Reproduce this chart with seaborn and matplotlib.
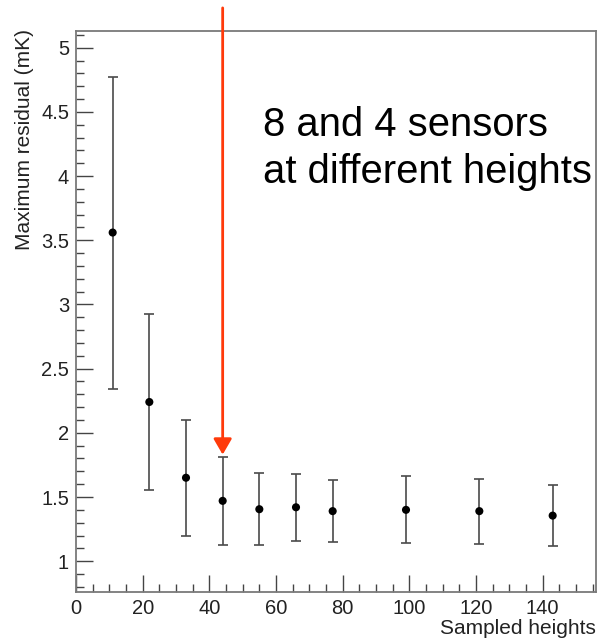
import matplotlib
matplotlib.use("Agg")
import matplotlib.pyplot as plt
from matplotlib.ticker import MultipleLocator, FuncFormatter
import seaborn as sns
import pandas as pd

# Scan results: maximum residual versus number of sampled heights
sampled_heights = [11, 22, 33, 44, 55, 66, 77, 99, 121, 143]
max_residual = [3.56, 2.24, 1.65, 1.47, 1.405, 1.42, 1.39, 1.40, 1.39, 1.355]
residual_err = [1.215, 0.685, 0.45, 0.34, 0.28, 0.26, 0.24, 0.26, 0.253, 0.235]

highlight_x = 44
highlight_tip = 1.83
note_lines = ["8 and 4 sensors", "at different heights"]

df = pd.DataFrame({"heights": sampled_heights, "residual": max_residual, "err": residual_err})

sns.set_theme(style="ticks")
plt.rcParams["font.family"] = ["Liberation Sans", "DejaVu Sans"]

fig = plt.figure(figsize=(5.99, 6.40), dpi=100)
ax = fig.add_axes([76 / 599, 48 / 640, 520 / 599, 561 / 640])

ax.errorbar(df["heights"], df["residual"], yerr=df["err"], fmt="none",
            ecolor="#4a4a4a", elinewidth=1.2, capsize=3.5, capthick=1.2, zorder=2)
sns.scatterplot(data=df, x="heights", y="residual", ax=ax, color="black",
                s=34, edgecolor="none", zorder=3, legend=False)

ax.set_xlim(0, 156)
ax.set_ylim(0.76, 5.13)

ax.xaxis.set_major_locator(MultipleLocator(20))
ax.xaxis.set_minor_locator(MultipleLocator(5))
ax.yaxis.set_major_locator(MultipleLocator(0.5))
ax.yaxis.set_minor_locator(MultipleLocator(0.1))
ax.yaxis.set_major_formatter(FuncFormatter(lambda v, p: f"{v:g}"))

ax.tick_params(axis="both", which="both", direction="in", color="#444444",
               top=False, right=False, labelcolor="#222222")
ax.tick_params(axis="both", which="major", length=12, width=1.0, labelsize=14.5)
ax.tick_params(axis="both", which="minor", length=6, width=1.0)
ax.tick_params(axis="x", which="major", pad=5)
ax.tick_params(axis="y", which="major", pad=5)

for side in ["left", "bottom", "top", "right"]:
    ax.spines[side].set_visible(True)
    ax.spines[side].set_color("#7a7a7a")
    ax.spines[side].set_linewidth(1.3)

ax.set_xlabel("Sampled heights", loc="right", fontsize=15, color="#222222")
ax.set_ylabel("Maximum residual (mK)", loc="top", fontsize=15, color="#222222")
ax.xaxis.set_label_coords(1.0, -0.0475)
ax.yaxis.set_label_coords(-0.081, 1.003)

# Red arrow pointing at the chosen configuration
ax.annotate("", xy=(highlight_x, highlight_tip), xytext=(highlight_x, 5.31),
            xycoords="data", textcoords="data", annotation_clip=False,
            arrowprops=dict(arrowstyle="-|>,head_length=0.95,head_width=0.55",
                            color="#ff3a0a", lw=2.0, mutation_scale=10,
                            shrinkA=0, shrinkB=0))

fig.text(263 / 599, 1 - 136 / 640, note_lines[0], fontsize=28.8, color="black",
         ha="left", va="baseline")
fig.text(263 / 599, 1 - 183 / 640, note_lines[1], fontsize=28.8, color="black",
         ha="left", va="baseline")

fig.savefig("out.png", dpi=100)
